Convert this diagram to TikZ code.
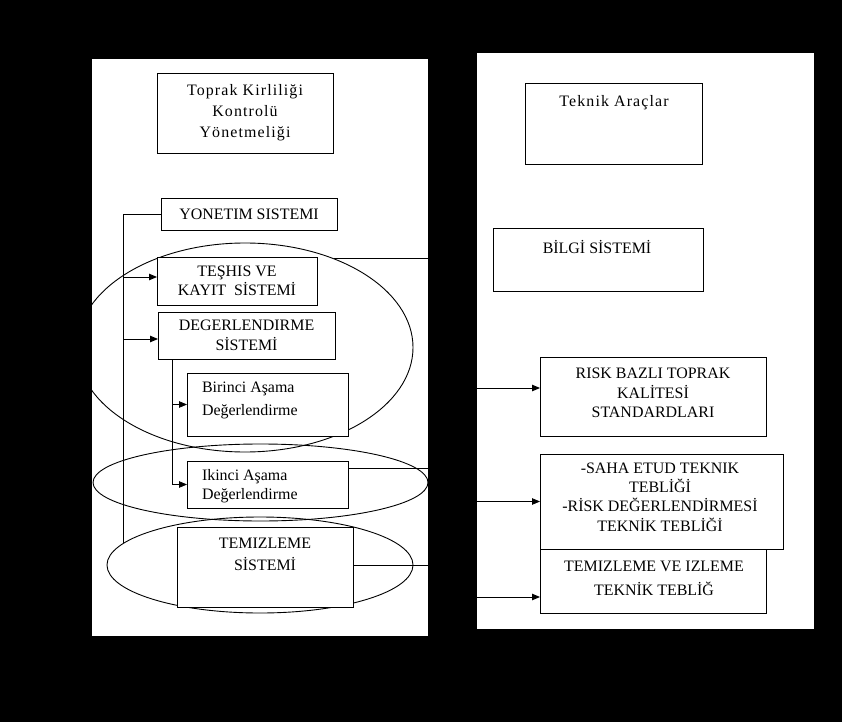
\documentclass[tikz,border=0pt]{standalone}
\usepackage{fontspec}
\setmainfont{Liberation Serif}
\usetikzlibrary{arrows.meta,shapes.geometric}

\begin{document}
\begin{tikzpicture}[x=1bp,y=-1bp,line width=0.9bp,
  panel/.style={fill=white,inner sep=0pt,outer sep=0pt},
  box/.style={draw,fill=white,inner sep=0pt,outer sep=0pt,align=center,
              font=\fontsize{16}{19.5}\selectfont},
  txt/.style={inner sep=0pt,outer sep=0pt,align=center,
              font=\fontsize{16}{19.5}\selectfont},
  wide/.style={font=\fontsize{16}{21}\selectfont\addfontfeatures{LetterSpace=7}},
  ring/.style={draw,ellipse,inner sep=0pt,outer sep=0pt},
  arr/.style={-{Triangle[length=8bp,width=6.5bp]}}]

% background and the two white sheets
\fill[black] (0,0) rectangle (842,722);
\useasboundingbox (0,0) rectangle (842,722);
\node[panel,minimum width=336bp,minimum height=577bp] (lp) at (260,347.5) {};
\node[panel,minimum width=337bp,minimum height=576bp] (rp) at (645.5,341) {};

% grouping ellipses
\node[ring,minimum width=336bp,minimum height=209bp] (e1) at (245,347.5) {};
\node[ring,minimum width=335bp,minimum height=77bp] (e2) at (260.5,482.5) {};
\node[ring,minimum width=306bp,minimum height=96bp] (e3) at (260,565) {};

% left sheet: regulation and its systems
\node[box,wide,minimum width=176bp,minimum height=80bp] (top) at (245,113)
  {Toprak Kirliliği\\Kontrolü\\Yönetmeliği};
\node[box,minimum width=176bp,minimum height=32bp] (yon) at (249,214)
  {YONETIM SISTEMI};
\node[box,minimum width=160bp,minimum height=48bp] (tes) at (237,281)
  {TEŞHIS VE\\KAYIT\ \ SİSTEMİ};
\node[box,minimum width=177bp,minimum height=47bp] (deg) at (246.5,335.5)
  {DEGERLENDIRME\\SİSTEMİ};
\node[box,minimum width=161bp,minimum height=63bp] (bir) at (267.5,404.5) {};
\node[txt,anchor=west,align=left,font=\fontsize{16}{23}\selectfont] (birt) at (202,400.5)
  {Birinci Aşama\\Değerlendirme};
\node[box,minimum width=161bp,minimum height=47bp] (ik) at (267.5,484.5) {};
\node[txt,anchor=west,align=left] (ikt) at (202,486)
  {Ikinci Aşama\\Değerlendirme};
\node[box,minimum width=176bp,minimum height=80bp] (tem) at (265,567) {};
\node[txt,font=\fontsize{16}{22}\selectfont] (temt) at (265,554) {TEMIZLEME\\SİSTEMİ};

% right sheet: technical tools
\node[box,minimum width=177bp,minimum height=81bp] (tek) at (613.5,123.5) {};
\node[txt,wide] (tekt) at (614,103) {Teknik Araçlar};
\node[box,minimum width=210bp,minimum height=63bp] (bil) at (598,259.5) {};
\node[txt] (bilt) at (597,247) {BİLGİ SİSTEMİ};
\node[box,minimum width=226bp,minimum height=79bp] (risk) at (653,396.5) {};
\node[txt] (riskt) at (653,393)
  {RISK BAZLI TOPRAK\\KALİTESİ\\STANDARDLARI};
\node[box,minimum width=226bp,minimum height=64bp] (tiz) at (653,581) {};
\node[txt,font=\fontsize{16}{24}\selectfont] (tizt) at (654,578) {TEMIZLEME VE IZLEME\\TEKNİK TEBLİĞ};
\node[box,minimum width=243bp,minimum height=95bp] (saha) at (661.5,501.5) {};
\node[txt,font=\fontsize{16}{19.5}\selectfont] (sahat) at (660,497)
  {-SAHA ETUD TEKNIK\\TEBLİĞİ\\-RİSK DEĞERLENDİRMESİ\\TEKNİK TEBLİĞİ};

% attachment points on box edges
\coordinate (tesin) at ([yshift=4bp]tes.west);
\coordinate (degin) at ([yshift=-3.5bp]deg.west);
\coordinate (ikout) at ([yshift=16.5bp]ik.east);
\coordinate (temout) at ([yshift=2bp]tem.east);
\coordinate (riskin) at ([yshift=8.5bp]risk.west);
\coordinate (tizin) at ([yshift=-16bp]tiz.west);

% management trunk and its branches
\coordinate (trunk) at (123,543);
\draw (yon.west) -| (trunk);
\draw[arr] (trunk |- tesin) -- (tesin);
\draw[arr] (trunk |- degin) -- (degin);

% evaluation sub-branch
\coordinate (sub) at (172,359);
\draw[arr] (sub) |- (ik.west);
\draw[arr] (sub |- bir.west) -- (bir.west);

% links out to the edge of the left sheet
\draw (e1.45) -- (e1.45 -| lp.east);
\draw (ikout) -- (ikout -| lp.east);
\draw (temout) -- (temout -| lp.east);

% arrows entering the right sheet
\draw[arr] (riskin -| rp.west) -- (riskin);
\draw[arr] (saha.west -| rp.west) -- (saha.west);
\draw[arr] (tizin -| rp.west) -- (tizin);
\end{tikzpicture}
\end{document}
